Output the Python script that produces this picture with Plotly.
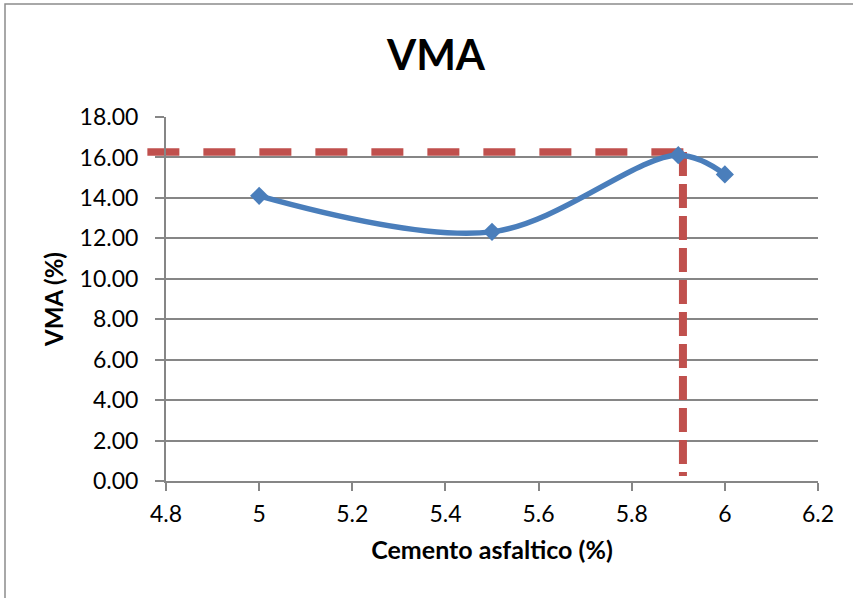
import plotly.graph_objects as go

# ---- data ----
cemento = [5.0, 5.5, 5.9, 6.0]
vma = [14.10, 12.32, 16.11, 15.16]

opt_cemento = 5.91      # optimum asphalt content (vertical guide)
opt_vma = 16.27         # VMA at optimum (horizontal guide)
guide_x_start = 4.76
guide_y_end = 0.25

x_ticks = [4.8, 5.0, 5.2, 5.4, 5.6, 5.8, 6.0, 6.2]
x_tick_labels = ["4.8", "5", "5.2", "5.4", "5.6", "5.8", "6", "6.2"]
y_ticks = [0, 2, 4, 6, 8, 10, 12, 14, 16, 18]

# ---- layout constants ----
W, H = 853, 598
ML, MR, MT, MB = 166, 35, 117, 117
x_range = [4.8, 6.2]
y_range = [0, 18]
FONT = "Lato"
BLUE = "#4A7EBB"
RED = "#C0504D"
GRID = "#868686"

plot_w = W - ML - MR
plot_h = H - MT - MB


def px_to_paper_x(px):
    return (px - ML) / plot_w


def px_to_paper_y(py):
    return (H - MB - py) / plot_h


def data_to_paper_x(v):
    return (v - x_range[0]) / (x_range[1] - x_range[0])


fig = go.Figure()

# vertical guide line (below the data series)
fig.add_trace(go.Scatter(
    x=[opt_cemento, opt_cemento], y=[opt_vma, guide_y_end],
    mode="lines", line=dict(color=RED, width=8, dash="24px,8px"),
    hoverinfo="skip", showlegend=False,
))

# VMA series
fig.add_trace(go.Scatter(
    x=cemento, y=vma, mode="lines+markers",
    line=dict(color=BLUE, width=5.5, shape="spline", smoothing=1),
    marker=dict(symbol="diamond", size=14, color=BLUE),
    showlegend=False, name="VMA",
))

shapes = [
    # horizontal guide line (extends slightly past the y axis)
    dict(type="line", xref="paper", yref="y",
         x0=data_to_paper_x(guide_x_start), x1=data_to_paper_x(opt_cemento) + 3 / plot_w,
         y0=opt_vma, y1=opt_vma,
         line=dict(color=RED, width=7.5, dash="32px,24px"), layer="below"),
    # chart area border
    dict(type="rect", xref="paper", yref="paper",
         x0=px_to_paper_x(5), x1=px_to_paper_x(W + 50),
         y0=px_to_paper_y(H + 50), y1=px_to_paper_y(4),
         line=dict(color="#8C8C8C", width=1.5), fillcolor="rgba(0,0,0,0)", layer="below"),
]

fig.update_layout(
    width=W, height=H,
    margin=dict(l=ML, r=MR, t=MT, b=MB),
    paper_bgcolor="white",
    plot_bgcolor="rgba(0,0,0,0)",
    font=dict(family=FONT, color="black", size=23),
    title=dict(text="<b>VMA</b>", x=436 / W, xref="container", xanchor="center",
               y=1 - 55 / H, yref="container", yanchor="middle",
               font=dict(family=FONT, size=42, color="black")),
    shapes=shapes,
    xaxis=dict(
        range=x_range, tickvals=x_ticks, ticktext=x_tick_labels,
        showgrid=False, zeroline=False,
        showline=True, linecolor=GRID, linewidth=2,
        ticks="outside", ticklen=8, tickwidth=2, tickcolor=GRID,
        ticklabelstandoff=3,
        tickfont=dict(family=FONT, size=23, color="black"),
        title=dict(text="<b>Cemento asfaltico (%)</b>", standoff=16,
                   font=dict(family=FONT, size=25, color="black")),
        automargin=False,
    ),
    yaxis=dict(
        range=y_range, tickvals=y_ticks, tickformat=".2f",
        showgrid=True, gridcolor=GRID, gridwidth=2, zeroline=False,
        showline=True, linecolor=GRID, linewidth=2,
        ticks="outside", ticklen=9, tickwidth=2, tickcolor=GRID,
        ticklabelstandoff=12,
        tickfont=dict(family=FONT, size=23, color="black"),
        title=dict(text="<b>VMA (%)</b>", standoff=9,
                   font=dict(family=FONT, size=24, color="black")),
        automargin=False,
    ),
)

fig.write_html("out.html", config={"displayModeBar": False},
               post_script="document.body.style.margin='0';")
